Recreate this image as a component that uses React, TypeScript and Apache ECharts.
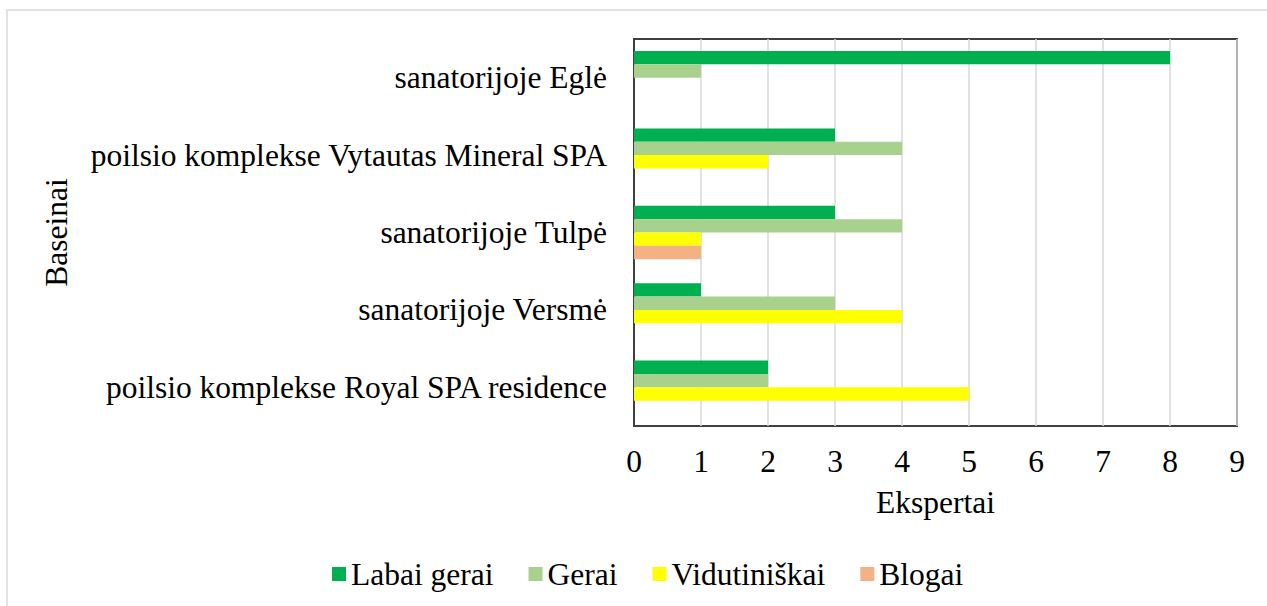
import React, { useEffect, useRef } from "react";
import * as echarts from "echarts";

const categories = [
  "sanatorijoje Eglė",
  "poilsio komplekse Vytautas Mineral SPA",
  "sanatorijoje Tulpė",
  "sanatorijoje Versmė",
  "poilsio komplekse Royal SPA residence",
];
const labaiGerai = [8, 3, 3, 1, 2];
const gerai = [1, 4, 4, 3, 2];
const vidutiniskai = [0, 2, 1, 4, 5];
const blogai = [0, 0, 1, 0, 0];
const seriesNames = ["Labai gerai", "Gerai", "Vidutiniškai", "Blogai"];
const seriesColors = ["#00B050", "#A9D18E", "#FFFF00", "#F4B183"];

const FONT = "'Liberation Serif', 'Times New Roman', serif";
const FS = 31.5;

export default function App() {
  const ref = useRef<HTMLDivElement>(null);
  useEffect(() => {
    if (!ref.current) return;
    const chart = echarts.init(ref.current, undefined, { renderer: "svg" });
    const values = [labaiGerai, gerai, vidutiniskai, blogai];
    chart.setOption({
      animation: false,
      backgroundColor: "#ffffff",
      textStyle: { fontFamily: FONT, color: "#000" },
      graphic: [
        {
          type: "rect",
          shape: { x: 7, y: 10, width: 1300, height: 700 },
          style: { fill: "none", stroke: "#e3e3e3", lineWidth: 2 },
          silent: true,
        },
      ],
      grid: {
        left: 634,
        top: 39,
        width: 603,
        height: 387,
        show: true,
        borderColor: "#404040",
        borderWidth: 2,
        backgroundColor: "transparent",
      },
      legend: {
        top: 553,
        left: 327,
        itemWidth: 14,
        itemHeight: 14,
        itemGap: 35,
        icon: "rect",
        textStyle: { fontFamily: FONT, fontSize: FS, color: "#000" },
        data: seriesNames,
      },
      xAxis: {
        type: "value",
        min: 0,
        max: 9,
        interval: 1,
        name: "Ekspertai",
        nameLocation: "middle",
        nameGap: 60,
        nameTextStyle: { fontFamily: FONT, fontSize: FS, color: "#000" },
        axisLine: { show: false },
        axisTick: { show: false },
        axisLabel: { fontFamily: FONT, fontSize: FS, color: "#000", margin: 19 },
        splitLine: { show: true, lineStyle: { color: "#d9d9d9", width: 1.5 } },
      },
      yAxis: {
        type: "category",
        inverse: true,
        data: categories,
        name: "Baseinai",
        nameLocation: "middle",
        nameGap: 562,
        nameTextStyle: { fontFamily: FONT, fontSize: FS, color: "#000" },
        axisLine: { show: true, lineStyle: { color: "#404040", width: 2 } },
        axisTick: { show: false },
        axisLabel: { fontFamily: FONT, fontSize: FS, color: "#000", margin: 27 },
        splitLine: { show: false },
      },
      series: seriesNames.map((name, i) => ({
        name,
        type: "bar",
        data: values[i],
        itemStyle: { color: seriesColors[i] },
        barGap: "0%",
        barCategoryGap: "31%",
      })),
    });
    return () => chart.dispose();
  }, []);
  return (
    <div
      ref={ref}
      style={{ position: "fixed", left: 0, top: 0, width: 1267, height: 606 }}
    />
  );
}
